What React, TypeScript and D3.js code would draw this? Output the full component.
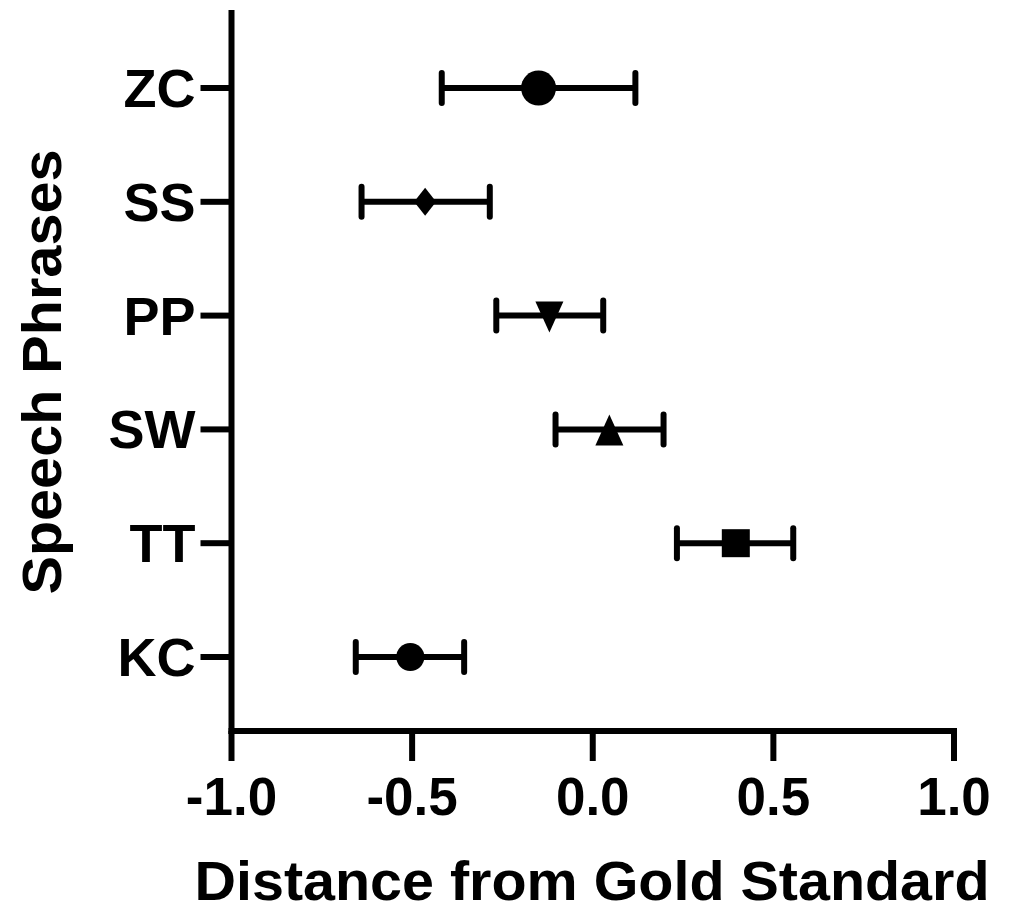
import React, { useEffect, useRef } from 'react';
import * as d3 from 'd3';

// phrases, top to bottom
const phrases = ['ZC', 'SS', 'PP', 'SW', 'TT', 'KC'];
const means = [-0.15, -0.464, -0.12, 0.046, 0.396, -0.505];
const lower = [-0.418, -0.64, -0.267, -0.103, 0.233, -0.656];
const upper = [0.118, -0.285, 0.029, 0.196, 0.555, -0.356];
const markers = ['bigCircle', 'diamond', 'triangleDown', 'triangleUp', 'square', 'circle'];
const xTicks = [-1, -0.5, 0, 0.5, 1];
const xTickLabels = ['-1.0', '-0.5', '0.0', '0.5', '1.0'];

const FONT = '"Liberation Sans", Arial, Helvetica, sans-serif';

const App = () => {
  const ref = useRef<SVGSVGElement | null>(null);

  useEffect(() => {
    document.body.style.margin = '0';
    const svg = d3.select(ref.current);
    svg.selectAll('*').remove();

    const x = d3.scaleLinear().domain([-1, 1]).range([231.5, 954]);
    const y = d3
      .scalePoint()
      .domain([...phrases].reverse())
      .range([733, 12])
      .padding(0.668);

    const g = svg.append('g').style('font-family', FONT).style('font-weight', 'bold');

    // y axis
    g.append('line')
      .attr('x1', x(-1)).attr('x2', x(-1))
      .attr('y1', 10).attr('y2', 734)
      .attr('stroke', '#000').attr('stroke-width', 6);
    // x axis
    g.append('line')
      .attr('x1', x(-1) - 3).attr('x2', x(1) + 3)
      .attr('y1', 731).attr('y2', 731)
      .attr('stroke', '#000').attr('stroke-width', 6);

    // x ticks
    g.selectAll('.xtick')
      .data(xTicks)
      .enter()
      .append('line')
      .attr('x1', d => x(d)).attr('x2', d => x(d))
      .attr('y1', 731).attr('y2', 761)
      .attr('stroke', '#000').attr('stroke-width', 6);

    g.selectAll('.xlabel')
      .data(xTicks)
      .enter()
      .append('text')
      .attr('x', d => x(d))
      .attr('y', 815)
      .attr('text-anchor', 'middle')
      .style('font-size', '53px')
      .text((d, i) => xTickLabels[i]);

    // y ticks + labels
    g.selectAll('.ytick')
      .data(phrases)
      .enter()
      .append('line')
      .attr('x1', x(-1) - 31).attr('x2', x(-1))
      .attr('y1', d => y(d)!).attr('y2', d => y(d)!)
      .attr('stroke', '#000').attr('stroke-width', 6);

    g.selectAll('.ylabel')
      .data(phrases)
      .enter()
      .append('text')
      .attr('x', x(-1) - 36)
      .attr('y', d => y(d)! + 19)
      .attr('text-anchor', 'end')
      .style('font-size', '54px')
      .text(d => d);

    // axis titles
    g.append('text')
      .attr('x', 592)
      .attr('y', 900)
      .attr('text-anchor', 'middle')
      .attr('textLength', 795)
      .attr('lengthAdjust', 'spacingAndGlyphs')
      .style('font-size', '55px')
      .text('Distance from Gold Standard');

    g.append('text')
      .attr('transform', `translate(61,${(10 + 734) / 2}) rotate(-90)`)
      .attr('text-anchor', 'middle')
      .attr('textLength', 445)
      .attr('lengthAdjust', 'spacingAndGlyphs')
      .style('font-size', '55px')
      .text('Speech Phrases');

    // error bars
    const rows = phrases.map((p, i) => ({ p, m: means[i], lo: lower[i], hi: upper[i], mk: markers[i] }));
    const bars = g.selectAll('.bar').data(rows).enter().append('g');
    bars.append('line')
      .attr('x1', d => x(d.lo)).attr('x2', d => x(d.hi))
      .attr('y1', d => y(d.p)!).attr('y2', d => y(d.p)!)
      .attr('stroke', '#000').attr('stroke-width', 6);
    [(d: any) => d.lo, (d: any) => d.hi].forEach(acc => {
      bars.append('line')
        .attr('x1', d => x(acc(d))).attr('x2', d => x(acc(d)))
        .attr('y1', d => y(d.p)! - 15).attr('y2', d => y(d.p)! + 15)
        .attr('stroke', '#000').attr('stroke-width', 6)
        .attr('stroke-linecap', 'round');
    });

    // markers
    const shape = (mk: string) => {
      switch (mk) {
        case 'bigCircle':
          return 'M-17.5,0a17.5,17.5 0 1,0 35,0a17.5,17.5 0 1,0 -35,0Z';
        case 'circle':
          return 'M-14,0a14,14 0 1,0 28,0a14,14 0 1,0 -28,0Z';
        case 'diamond':
          return 'M0,-14L11,0L0,14L-11,0Z';
        case 'triangleDown':
          return 'M-14,-14L14,-14L0,17Z';
        case 'triangleUp':
          return 'M0,-15L14,16L-14,16Z';
        default:
          return 'M-14,-14L14,-14L14,14L-14,14Z';
      }
    };
    bars.append('path')
      .attr('transform', d => `translate(${x(d.m)},${y(d.p)})`)
      .attr('d', d => shape(d.mk))
      .attr('fill', '#000');
  }, []);

  return <svg ref={ref} width={1010} height={912} style={{ display: 'block', background: '#fff' }} />;
};

export default App;
